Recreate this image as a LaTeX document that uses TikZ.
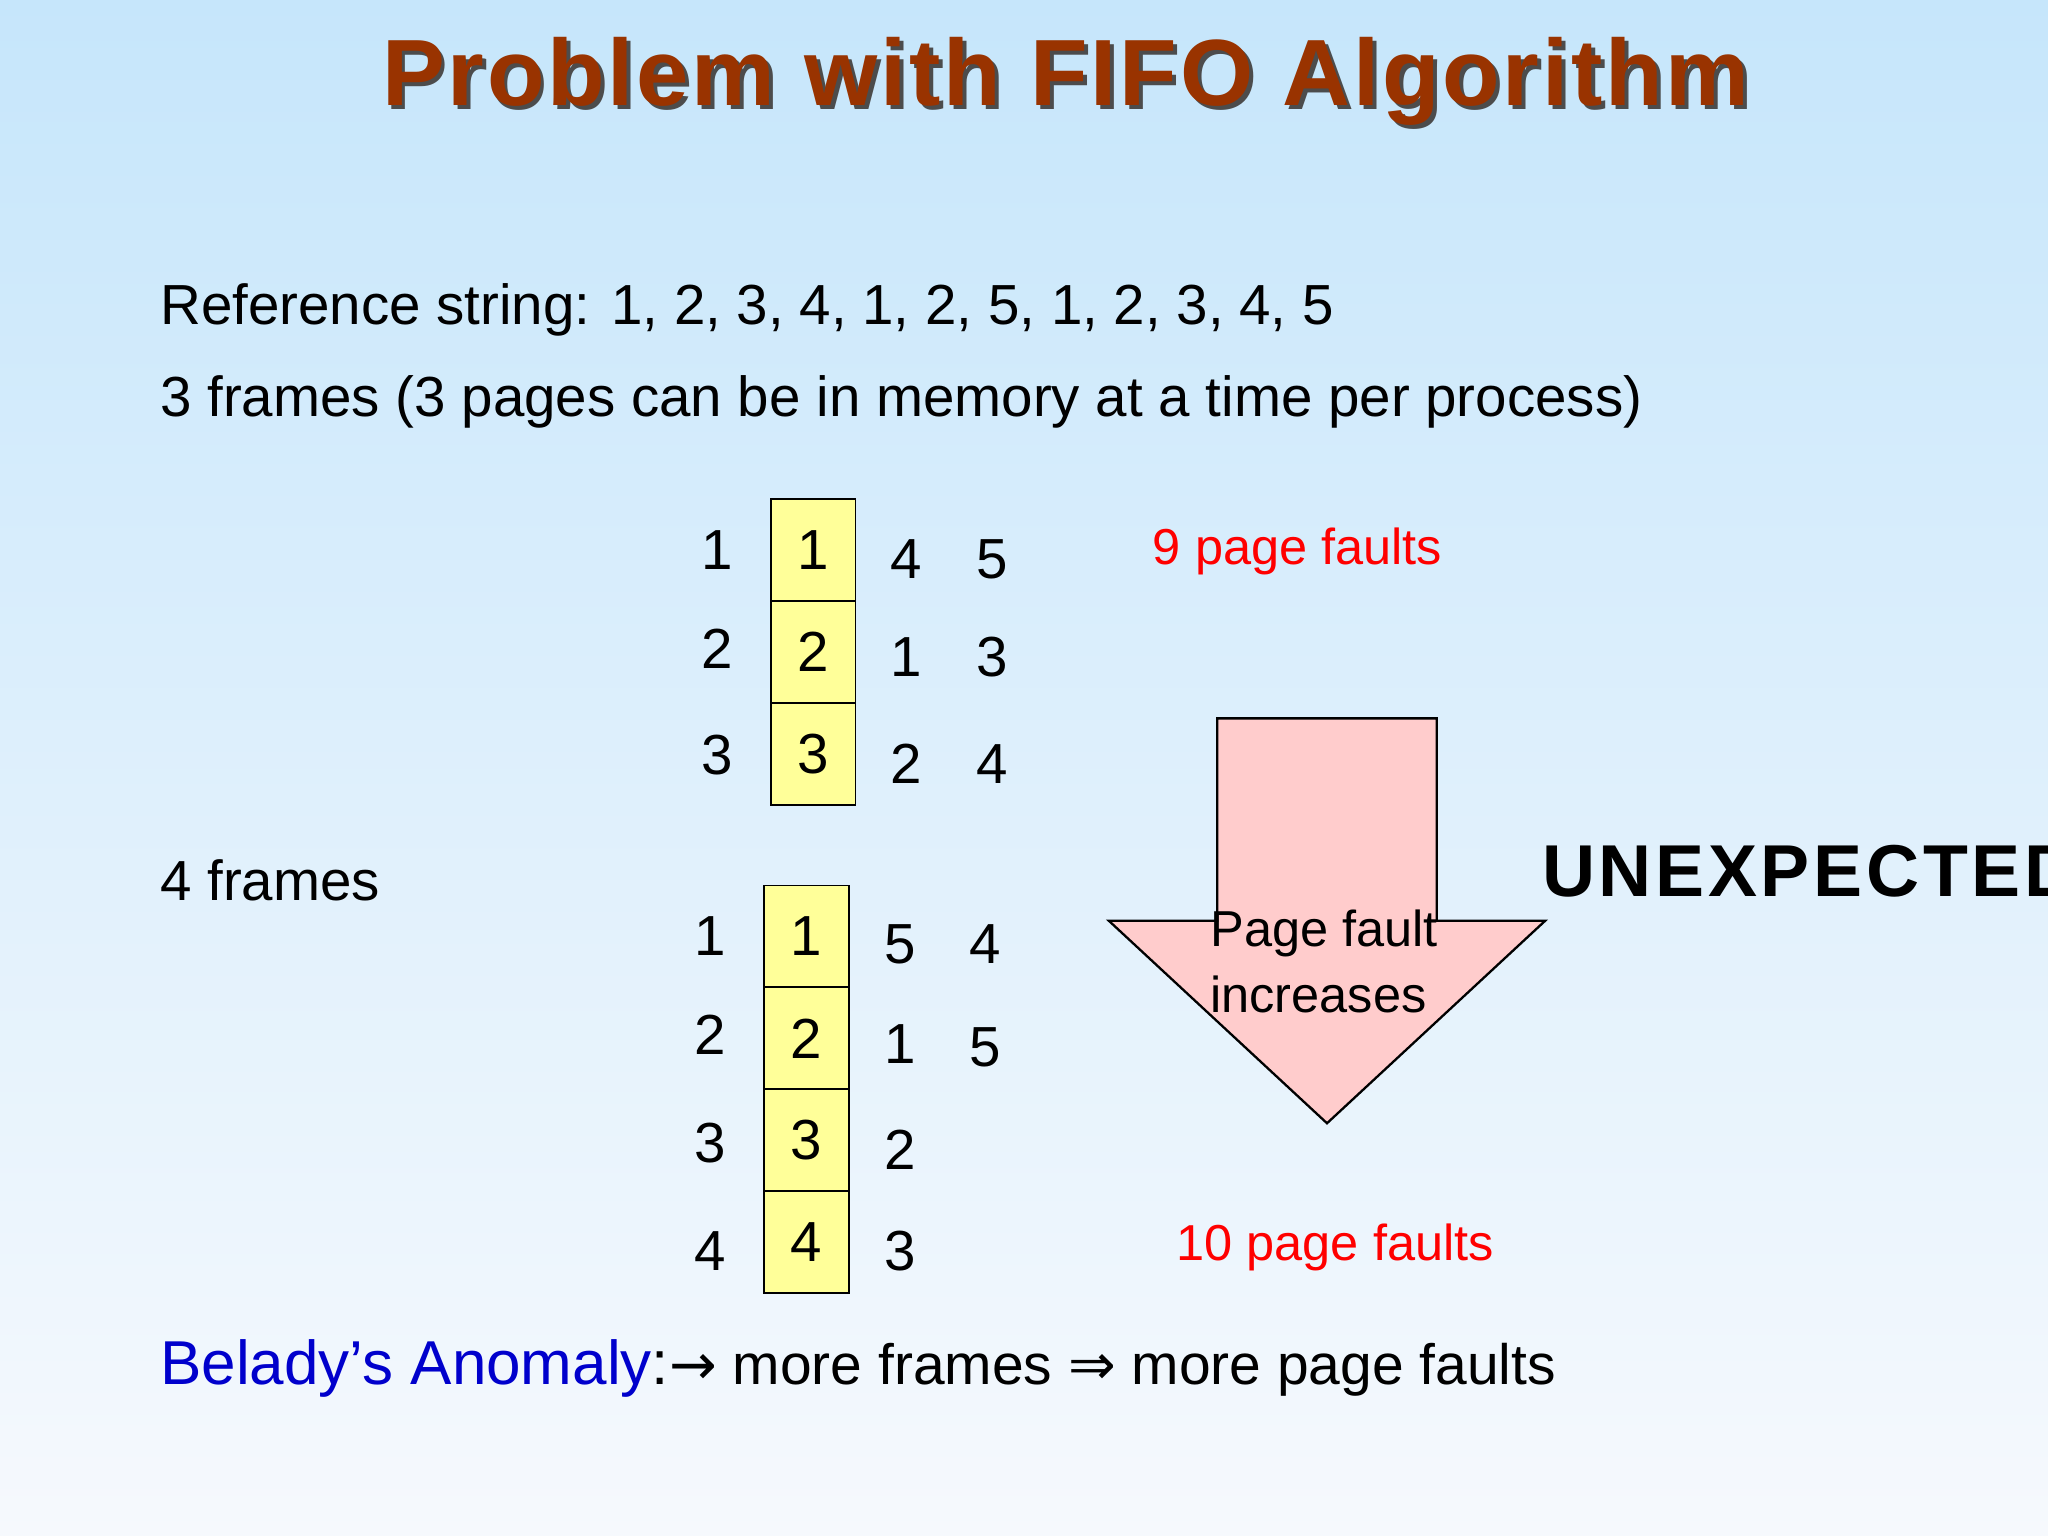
\documentclass[tikz,border=0pt]{standalone}
\usepackage{fontspec}
\setmainfont{Liberation Sans}
\newfontfamily\djv{DejaVu Sans}
\definecolor{titlec}{HTML}{993300}
\definecolor{bgtop}{HTML}{C6E6FB}
\definecolor{bgbot}{HTML}{F6F9FD}
\definecolor{boxy}{HTML}{FFFF99}
\definecolor{pinkf}{HTML}{FFCCCC}
\definecolor{bluet}{HTML}{0000CC}
\begin{document}
\begin{tikzpicture}[x=0.01cm,y=-0.01cm,
  body/.style={font=\fontsize{12.3}{14}\selectfont,inner sep=0pt},
  cell/.style={draw=black,fill=boxy,minimum width=0.65cm,minimum height=0.78cm,inner sep=0pt,font=\fontsize{12.3}{14}\selectfont},
  red/.style={font=\fontsize{11}{13}\selectfont,inner sep=0pt,text=red,anchor=west}]
\useasboundingbox (0,0) rectangle (1568,1176);
\clip (0,0) rectangle (1568,1176);
\shade[top color=bgtop,bottom color=bgbot] (0,0) rectangle (1568,1176);
% title
\node[text=black!70,font=\fontsize{20.5}{24}\bfseries\addfontfeature{LetterSpace=3}] at (819,65) {Problem with FIFO Algorithm};
\node[text=titlec,font=\fontsize{20.5}{24}\bfseries\addfontfeature{LetterSpace=3}] (title) at (816,62) {Problem with FIFO Algorithm};
% lines
\node[body,anchor=west] (ref) at (122,237) {Reference string: 1, 2, 3, 4, 1, 2, 5, 1, 2, 3, 4, 5};
\node[body,anchor=west] (fr3) at (122,308) {3 frames (3 pages can be in memory at a time per process)};
\node[body,anchor=west] (fr4) at (122,674) {4 frames};
% 3 frames
\node[cell] (a1) at (622.5,421) {1};
\node[cell] (a2) at (622.5,499) {2};
\node[cell] (a3) at (622.5,577) {3};
\node[body] (l1) at (549,421) {1};
\node[body] (l2) at (549,497) {2};
\node[body] (l3) at (549,578) {3};
\node[body] (r11) at (694,428) {4};
\node[body] (r12) at (760,428) {5};
\node[body] (r21) at (694,503) {1};
\node[body] (r22) at (760,503) {3};
\node[body] (r31) at (694,585) {2};
\node[body] (r32) at (760,585) {4};
\node[red] (nine) at (882,422) {9 page faults};
% 4 frames
\node[cell] (b1) at (617.5,717) {1};
\node[cell] (b2) at (617.5,795) {2};
\node[cell] (b3) at (617.5,873) {3};
\node[cell] (b4) at (617.5,951) {4};
\node[body] (m1) at (544,717) {1};
\node[body] (m2) at (544,792) {2};
\node[body] (m3) at (544,875) {3};
\node[body] (m4) at (544,958) {4};
\node[body] (s11) at (689,723) {5};
\node[body] (s12) at (754,723) {4};
\node[body] (s21) at (689,799) {1};
\node[body] (s22) at (754,802) {5};
\node[body] (s31) at (689,880) {2};
\node[body] (s41) at (689,958) {3};
\node[red] (ten) at (900,955) {10 page faults};
% big arrow
\draw[fill=pinkf,draw=black,line width=0.5pt] (932,550) -- (1100,550) -- (1100,705) -- (1183,705) -- (1016,860) -- (849,705) -- (932,705) -- cycle;
\node[anchor=west,inner sep=0pt,font=\fontsize{11}{13}\selectfont] (pf1) at (926,715) {Page fault};
\node[anchor=west,inner sep=0pt,font=\fontsize{11}{13}\selectfont] (pf2) at (926,761) {increases};
\node[anchor=west,inner sep=0pt,font=\fontsize{16}{18}\bfseries\addfontfeature{LetterSpace=5}] (unex) at (1180,667) {UNEXPECTED};
% bottom
\node[anchor=west,inner sep=0pt,font=\fontsize{13.5}{16}\selectfont] (bel) at (122,1048) {\textcolor{bluet}{Belady’s Anomaly}:{\fontsize{12.4}{15}\selectfont{\djv →} more frames {\djv ⇒} more page faults}};
\end{tikzpicture}
\end{document}
